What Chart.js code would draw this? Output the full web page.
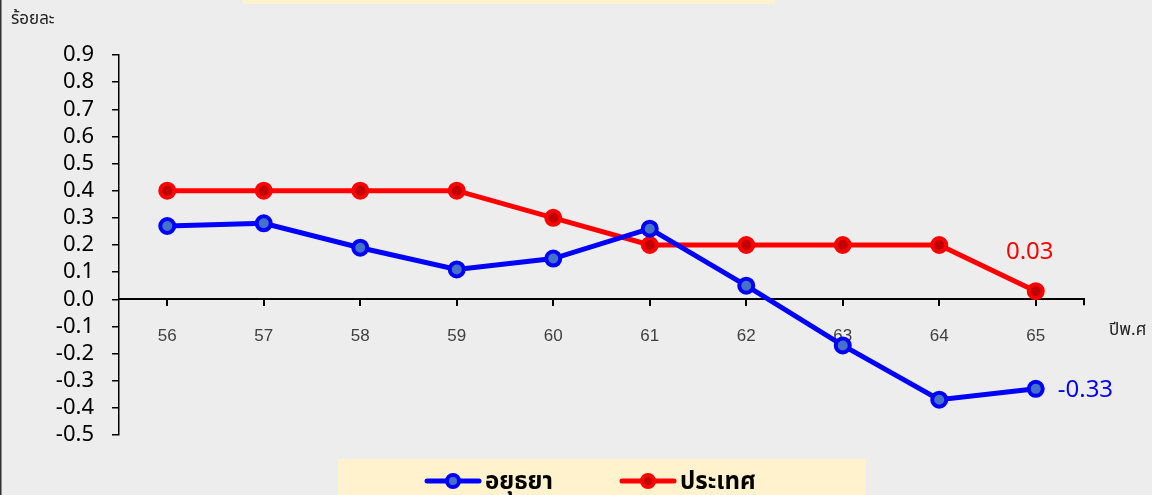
<!DOCTYPE html>
<html>
<head>
<meta charset="utf-8">
<script src="https://cdn.jsdelivr.net/npm/chart.js@4.4.1/dist/chart.umd.min.js"></script>
<style>
  html, body { margin: 0; padding: 0; background: #ededed; }
  #wrap { position: relative; width: 1152px; height: 495px; }
</style>
</head>
<body>
<div id="wrap"><canvas id="myChart" width="1152" height="495"></canvas></div>
<script>
    var years = ['56', '57', '58', '59', '60', '61', '62', '63', '64', '65'];
    var ayutthaya = [0.27, 0.28, 0.19, 0.11, 0.15, 0.26, 0.05, -0.17, -0.37, -0.33];
    var thailand = [0.4, 0.4, 0.4, 0.4, 0.3, 0.2, 0.2, 0.2, 0.2, 0.03];
    var seriesNames = ['อยุธยา', 'ประเทศ'];

    var thaiFont = '"Noto Sans Thai", "Noto Sans", "DejaVu Sans", sans-serif';
    var numFont = '"Noto Sans", "Open Sans", sans-serif';

    // background, boxes, labels and legend
    const decor = {
        id: 'decor',
        beforeDraw(chart) {
            const c = chart.ctx;
            c.save();
            c.fillStyle = '#ededed';
            c.fillRect(0, 0, chart.width, chart.height);
            c.fillStyle = '#fff2cc';
            c.fillRect(243, 0, 532, 4);
            c.fillRect(338, 459, 528, 40);
            c.fillStyle = '#333';
            c.fillRect(0, 0, 1.5, chart.height);
            c.fillStyle = '#222';
            c.font = '17px ' + thaiFont;
            c.textBaseline = 'middle';
            c.fillText('ร้อยละ', 11, 21);
            c.fillText('ปีพ.ศ', 1109, 332);
            c.restore();
        },
        afterDatasetsDraw(chart) {
            const c = chart.ctx;
            const x = chart.scales.x, y = chart.scales.y;
            c.save();
            // end tick of x axis
            c.strokeStyle = '#000';
            c.lineWidth = 2;
            c.beginPath();
            c.moveTo(chart.chartArea.right, y.getPixelForValue(0));
            c.lineTo(chart.chartArea.right, y.getPixelForValue(0) + 6);
            c.stroke();
            // value labels on last points
            const last = years.length - 1;
            c.font = '24px ' + numFont;
            c.textBaseline = 'middle';
            c.fillStyle = '#ff0000';
            c.textAlign = 'center';
            c.fillText(thailand[last].toFixed(2), x.getPixelForValue(last) - 6, y.getPixelForValue(thailand[last]) - 39);
            c.fillStyle = '#0000ff';
            c.textAlign = 'left';
            c.fillText(ayutthaya[last].toFixed(2), x.getPixelForValue(last) + 22, y.getPixelForValue(ayutthaya[last]) + 1);
            // legend
            const items = [
                { x: 427, color: '#0000ff', inner: '#4472c4', label: seriesNames[0] },
                { x: 622, color: '#ff0000', inner: '#c00000', label: seriesNames[1] }
            ];
            items.forEach(function (it) {
                const ly = 481;
                c.strokeStyle = it.color;
                c.lineWidth = 5;
                c.lineCap = 'round';
                c.beginPath();
                c.moveTo(it.x, ly);
                c.lineTo(it.x + 52, ly);
                c.stroke();
                c.beginPath();
                c.arc(it.x + 26, ly, 6, 0, Math.PI * 2);
                c.fillStyle = it.inner;
                c.fill();
                c.lineWidth = 4;
                c.stroke();
                c.fillStyle = '#000';
                c.font = 'bold 24px ' + thaiFont;
                c.textAlign = 'left';
                c.fillText(it.label, it.x + 58, ly + 3);
            });
            c.restore();
        }
    };

    const ctx = document.getElementById('myChart').getContext('2d');
    const myChart = new Chart(ctx, {
        type: 'line',
        data: {
            labels: years,
            datasets: [{
                    label: seriesNames[0],
                    data: ayutthaya,
                    borderColor: '#0000ff',
                    backgroundColor: '#4472c4',
                    borderWidth: 5,
                    pointRadius: 7,
                    pointBorderWidth: 4,
                    pointBorderColor: '#0000ff',
                    pointBackgroundColor: '#4472c4',
                    tension: 0
                }, {
                    label: seriesNames[1],
                    data: thailand,
                    borderColor: '#ff0000',
                    backgroundColor: '#c00000',
                    borderWidth: 5,
                    pointRadius: 7,
                    pointBorderWidth: 4,
                    pointBorderColor: '#ff0000',
                    pointBackgroundColor: '#c00000',
                    tension: 0
                }]
        },
        options: {
            responsive: false,
            animation: false,
            layout: { padding: { left: 0, top: 55, right: 68, bottom: 60 } },
            plugins: {
                legend: { display: false },
                tooltip: { enabled: false }
            },
            scales: {
                x: {
                    position: { y: 0 },
                    offset: true,
                    grid: { drawOnChartArea: false, drawTicks: true, tickLength: 6, offset: false, color: '#000', lineWidth: 2 },
                    border: { display: true, color: '#000', width: 2 },
                    ticks: { color: '#404040', font: { size: 17, family: 'Liberation Sans' }, padding: 21, maxRotation: 0 }
                },
                y: {
                    min: -0.5,
                    max: 0.9,
                    afterFit: function (s) { s.width = 119; },
                    grid: { drawOnChartArea: false, drawTicks: true, tickLength: 7, color: '#000', lineWidth: 1.5 },
                    border: { display: true, color: '#000', width: 1.5 },
                    ticks: {
                        stepSize: 0.1,
                        autoSkip: false,
                        color: '#000',
                        padding: 18,
                        font: { size: 22, family: numFont },
                        callback: function (v) { return (Math.round(v * 10) / 10).toFixed(1); }
                    }
                }
            }
        },
        plugins: [decor]
    });
</script>
</body>
</html>
